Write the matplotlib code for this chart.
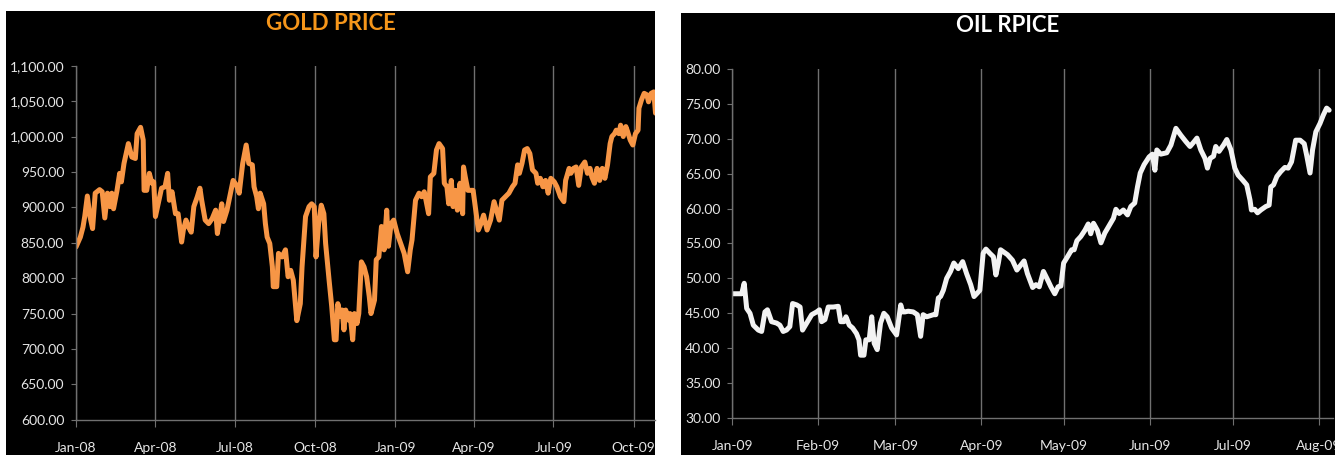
import numpy as np
import pandas as pd
import matplotlib
matplotlib.use("Agg")
import matplotlib.pyplot as plt
import matplotlib.dates as mdates
from matplotlib.patches import Rectangle

# ---------------- data ----------------
gold_start = "2008-01-01"
gold_days = [0, 5, 8, 10, 13, 16, 19, 22, 27, 30, 33, 36, 39, 41, 43, 47, 50, 52, 55, 60,
             64, 68, 70, 74, 77, 78, 81, 84, 87, 89, 91, 95, 98, 102, 105, 107, 110, 114, 117, 121,
             123, 126, 129, 132, 135, 139, 142, 144, 148, 152, 156, 160, 162, 165, 167, 169, 173, 177, 180, 184,
             187, 191, 195, 198, 202, 204, 207, 209, 211, 215, 217, 219, 222, 225, 226, 230, 232, 236, 240, 243,
             246, 249, 253, 257, 259, 263, 267, 270, 273, 275, 278, 281, 284, 286, 290, 293, 296, 298, 300, 303,
             305, 307, 309, 312, 314, 317, 319, 322, 324, 327, 330, 333, 336, 338, 342, 344, 347, 350, 353, 356,
             358, 361, 364, 368, 372, 376, 380, 383, 385, 389, 393, 396, 399, 401, 404, 406, 410, 413, 416, 420,
             422, 425, 427, 430, 432, 435, 437, 440, 443, 444, 446, 449, 452, 455, 458, 461, 464, 467, 471, 475,
             479, 483, 485, 488, 492, 496, 500, 503, 506, 508, 511, 514, 517, 520, 523, 527, 529, 532, 535, 538,
             541, 544, 548, 551, 555, 559, 561, 565, 567, 570, 573, 576, 579, 583, 586, 589, 591, 594, 597, 600,
             603, 606, 609, 612, 614, 617, 619, 622, 624, 627, 630, 632, 635, 638, 641, 644, 645, 648, 651, 654,
             656, 659, 662, 664]
gold_values = [844, 858, 872, 887, 916, 887, 870, 920, 925, 922, 885, 920, 901, 920, 898, 924, 948, 936, 962, 990,
               971, 969, 1004, 1013, 995, 924, 924, 948, 934, 936, 887, 910, 927, 929, 948, 910, 922, 891, 891, 851,
               868, 882, 872, 865, 901, 915, 927, 910, 882, 877, 884, 896, 863, 887, 905, 880, 896, 920, 938, 931,
               920, 962, 988, 962, 960, 929, 915, 898, 920, 905, 877, 858, 849, 816, 788, 788, 835, 830, 840, 802,
               811, 797, 740, 764, 816, 887, 901, 905, 901, 830, 877, 903, 891, 849, 797, 760, 713, 713, 764, 746,
               755, 727, 755, 741, 750, 713, 750, 736, 750, 823, 816, 802, 774, 750, 769, 826, 830, 873, 840, 896,
               845, 877, 882, 863, 849, 835, 809, 840, 854, 910, 920, 915, 922, 910, 891, 943, 948, 981, 990, 983,
               934, 929, 905, 938, 901, 924, 896, 934, 891, 957, 943, 924, 924, 924, 896, 868, 877, 889, 868, 882,
               908, 891, 882, 910, 915, 920, 929, 934, 960, 948, 962, 981, 983, 976, 953, 948, 934, 941, 929, 938,
               920, 941, 936, 929, 915, 908, 938, 955, 948, 955, 957, 931, 957, 964, 948, 955, 943, 934, 955, 938,
               955, 941, 960, 990, 1000, 1004, 1009, 1004, 1016, 1000, 1014, 1007, 995, 988, 1004, 1009, 1040, 1052, 1061, 1059,
               1049, 1061, 1063, 1033]
gold_ticks = ["Jan-08", "Apr-08", "Jul-08", "Oct-08", "Jan-09", "Apr-09", "Jul-09", "Oct-09"]

oil_start = "2009-01-01"
oil_days = [0.4, 3.4, 4.3, 5.2, 6.4, 7.6, 9.4, 10.6, 11.8, 12.7, 14.2, 16.0, 17.2, 18.4, 19.6, 20.8, 21.8, 23.3,
            24.5, 25.4, 26.9, 28.7, 30.5, 31.5, 32.3, 33.5, 34.7, 36.5, 38.3, 39.2, 40.4, 41.1, 42.3, 43.5, 44.9,
            45.8, 46.4, 47.6, 48.3, 49.5, 50.4, 51.3, 52.4, 53.6, 54.8, 56.0, 57.6, 59.4, 60.9, 61.6, 62.4, 63.6,
            65.4, 66.9, 68.1, 69.0, 70.3, 72.7, 73.6, 74.5, 75.3, 76.3, 77.5, 78.9, 80.1, 81.7, 83.3, 84.7, 86.2,
            87.4, 88.6, 89.5, 90.7, 91.7, 93.1, 94.4, 95.3, 96.2, 97.0, 99.5, 101.3, 102.9, 104.3, 105.5, 106.7,
            108.6, 109.8, 111.0, 112.5, 114.0, 115.2, 116.6, 117.8, 118.8, 119.8, 121.2, 122.7, 123.6, 124.6, 126.0,
            127.5, 128.7, 129.6, 130.6, 132.0, 133.3, 134.7, 136.3, 137.8, 138.7, 139.9, 141.4, 142.9, 144.1, 145.5,
            146.5, 147.5, 148.9, 150.7, 151.9, 152.8, 153.5, 154.9, 157.1, 158.6, 160.4, 162.2, 164.0, 165.5, 167.0,
            168.0, 169.4, 170.9, 171.8, 172.8, 174.0, 174.8, 176.0, 177.6, 178.8, 180.3, 181.7, 182.9, 184.5, 186.0,
            187.2, 187.7, 188.9, 189.9, 191.1, 192.9, 194.1, 194.7, 195.7, 196.9, 198.3, 199.8, 201.0, 202.2, 203.7,
            205.3, 206.8, 207.7, 208.9, 209.8, 211.0, 212.5, 213.7, 214.9, 215.8]
oil_values = [47.8, 47.8, 49.3, 45.7, 45.0, 43.3, 42.6, 42.4, 45.2, 45.5, 43.8, 43.6, 43.3, 42.4, 42.6, 43.1, 46.4, 46.2,
              45.9, 42.6, 43.6, 44.8, 45.2, 45.5, 43.8, 44.1, 45.9, 45.9, 46.0, 43.8, 43.8, 44.5, 43.3, 42.9, 42.1,
              41.2, 39.0, 39.0, 41.2, 41.2, 44.5, 40.7, 39.8, 43.6, 45.0, 44.5, 42.9, 41.9, 46.2, 45.2, 45.2, 45.3,
              45.2, 44.8, 41.7, 44.8, 44.5, 44.8, 44.8, 47.2, 47.4, 48.3, 50.0, 51.0, 52.2, 51.4, 52.4, 50.7, 49.1,
              47.4, 47.9, 48.3, 53.6, 54.2, 53.6, 53.1, 50.5, 52.2, 54.1, 53.4, 52.6, 51.2, 51.9, 52.5, 50.7,
              48.7, 49.1, 48.8, 51.0, 49.8, 48.8, 47.8, 48.8, 48.9, 52.2, 53.1, 54.1, 54.1, 55.4, 56.0,
              56.9, 57.8, 56.4, 57.9, 56.9, 55.1, 56.5, 57.6, 58.6, 59.9, 59.3, 59.8, 59.1, 60.3, 60.8,
              63.1, 65.1, 66.3, 67.4, 67.8, 65.5, 68.4, 67.8, 68.0, 69.1, 71.5, 70.5, 69.6, 68.9, 69.6,
              70.1, 68.4, 67.2, 65.8, 67.2, 67.5, 68.9, 68.2, 69.1, 69.9, 68.4, 65.8, 64.8, 64.1, 63.4,
              61.2, 59.8, 59.9, 59.4, 59.8, 60.3, 60.5, 63.1, 63.4, 64.6, 65.3, 65.9, 65.8, 66.7, 69.8,
              69.8, 69.3, 67.6, 65.1, 68.4, 71.0, 72.2, 73.4, 74.4, 74.1]
oil_ticks = ["Jan-09", "Feb-09", "Mar-09", "Apr-09", "May-09", "Jun-09", "Jul-09", "Aug-09"]

gold_dates = pd.Timestamp(gold_start) + pd.to_timedelta(gold_days, unit="D")
oil_dates = pd.Timestamp(oil_start) + pd.to_timedelta(oil_days, unit="D")

# ---------------- figure ----------------
W, H = 1335, 455
fig = plt.figure(figsize=(W / 100, H / 100), dpi=100, facecolor="white")

def px(x0, y0, x1, y1):
    """convert pixel box (top-left origin) to figure fraction rect"""
    return [x0 / W, 1 - y1 / H, (x1 - x0) / W, (y1 - y0) / H]

# black chart panels (behind the axes)
for (x0, y0, x1, y1) in [(6, 11, 655, 455), (681, 13, 1335, 455)]:
    r = px(x0, y0, x1, y1)
    fig.patches.append(Rectangle((r[0], r[1]), r[2], r[3], transform=fig.transFigure,
                                 facecolor="black", edgecolor="none", zorder=-10))

tick_font = ["Lato", "DejaVu Sans"]
title_font = ["Lato", "DejaVu Sans"]
grid_col = "#707070"
label_col = "#E6E6E6"


def style_axes(ax, yticks, xtick_dates, xtick_labels, xlim, ylim):
    ax.set_facecolor("black")
    ax.set_xlim(*xlim)
    ax.set_ylim(*ylim)
    ax.set_yticks(yticks)
    ax.set_yticklabels([f"{v:,.2f}" for v in yticks], family=tick_font, fontsize=10, color=label_col)
    ax.set_xticks(xtick_dates)
    ax.set_xticklabels(xtick_labels, family=tick_font, fontsize=10, color=label_col)
    for s in ["top", "right"]:
        ax.spines[s].set_visible(False)
    for s in ["left", "bottom"]:
        ax.spines[s].set_color(grid_col)
        ax.spines[s].set_linewidth(1.0)
    ax.tick_params(axis="y", direction="out", length=3.5, width=0.8, color=grid_col, pad=5)
    ax.tick_params(axis="x", direction="out", length=5, width=0.8, color=grid_col, pad=11)
    ax.grid(axis="x", color=grid_col, linewidth=1.0)
    ax.set_axisbelow(True)


# Gold
axg = fig.add_axes(px(76, 65.7, 655, 419.8))
axg.plot(gold_dates, gold_values, color="#F79646", lw=3.6, solid_joinstyle="round", solid_capstyle="round")
g_tick_dates = pd.date_range("2008-01-01", periods=len(gold_ticks), freq="QS")
style_axes(axg, list(range(600, 1101, 50)), g_tick_dates, gold_ticks,
           (pd.Timestamp("2008-01-01"), pd.Timestamp("2008-01-01") + pd.Timedelta(days=663.4)), (600, 1100))

# Oil
axo = fig.add_axes(px(732.3, 69, 1333, 418))
axo.plot(oil_dates, oil_values, color="#F2F2F2", lw=3.6, solid_joinstyle="round", solid_capstyle="round")
o_tick_dates = pd.date_range("2009-01-01", periods=len(oil_ticks), freq="MS")
style_axes(axo, list(range(30, 81, 5)), o_tick_dates, oil_ticks,
           (pd.Timestamp("2009-01-01"), pd.Timestamp("2009-01-01") + pd.Timedelta(days=217.2)), (30, 80))

# titles centred over panels
fig.text((6 + 655) / 2 / W, 1 - 24 / H, "GOLD PRICE", ha="center", va="center",
         family=title_font, fontsize=16, fontweight="bold", color="#F6961A")
fig.text((681 + 1335) / 2 / W, 1 - 26 / H, "OIL RPICE", ha="center", va="center",
         family=title_font, fontsize=16, fontweight="bold", color="white")

fig.savefig("out.png", dpi=100, facecolor="white")
